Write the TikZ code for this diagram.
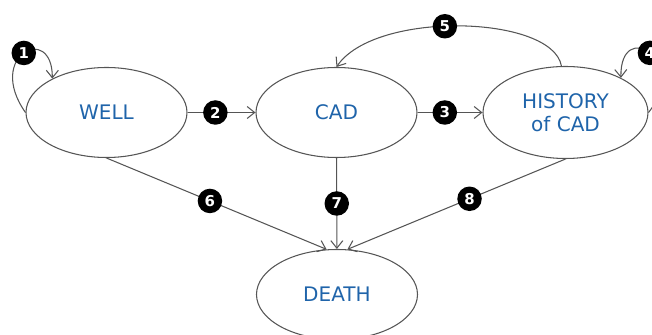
\documentclass[tikz,border=0pt]{standalone}
\usepackage{fontspec}
\setmainfont{DejaVu Sans}
\usepackage{xcolor}
\usetikzlibrary{arrows.meta,shapes.geometric}

\definecolor{stateblue}{HTML}{1F64AA}
\definecolor{linegray}{HTML}{555555}

\begin{document}
\begin{tikzpicture}[scale=1,
    state/.style={draw=linegray, line width=0.6pt, ellipse, minimum width=3.22cm, minimum height=1.8cm,
      inner sep=0pt, text=stateblue, font=\fontsize{11.4}{13}\selectfont, align=center},
    badge/.style={circle, fill=black, text=white, minimum size=0.49cm, inner sep=0pt,
      font=\bfseries\fontsize{8.5}{8.5}\selectfont},
    arr/.style={draw=linegray, line width=0.6pt, -{Straight Barb[length=1.5mm,width=2.4mm]}}]
  \clip (0,0) rectangle (13.04,6.7);
  % \draw[help lines, gray!50, very thin] (0,0) grid (13,7);

  \node[state] (well) at (2.13,4.45) {WELL};
  \node[state] (cad) at (6.73,4.45) {CAD};
  \node[state, minimum width=3.3cm, minimum height=1.84cm] (hist) at (11.31,4.45) {HISTORY\\of CAD};
  \node[state] (death) at (6.74,0.81) {DEATH};

  % loops
  \draw[arr] (well.west) .. controls (-0.3,5.6) and (1.05,6.25) .. node[badge, pos=0.5] (b1) {1} (well.148);
  \draw[arr] (hist.east) .. controls (13.8,5.5) and (12.4,6.35) .. node[badge, pos=0.5] (b4) {4} (hist.32);
  \draw[arr] (hist.95) .. controls (11.05,6.4) and (7.5,6.5) .. node[badge, pos=0.55] (b5) {5} (cad.north);

  % straight transitions
  \draw[arr] (well) -- node[badge, pos=0.41] (b2) {2} (cad);
  \draw[arr] (cad) -- node[badge, pos=0.42] (b3) {3} (hist);
  \draw[arr] (well.south) -- node[badge, pos=0.47] (b6) {6} (death.103);
  \draw[arr] (cad) -- node[badge, pos=0.5] (b7) {7} (death);
  \draw[arr] (hist.south) -- node[badge, pos=0.44] (b8) {8} (death.77);
\end{tikzpicture}
\end{document}
